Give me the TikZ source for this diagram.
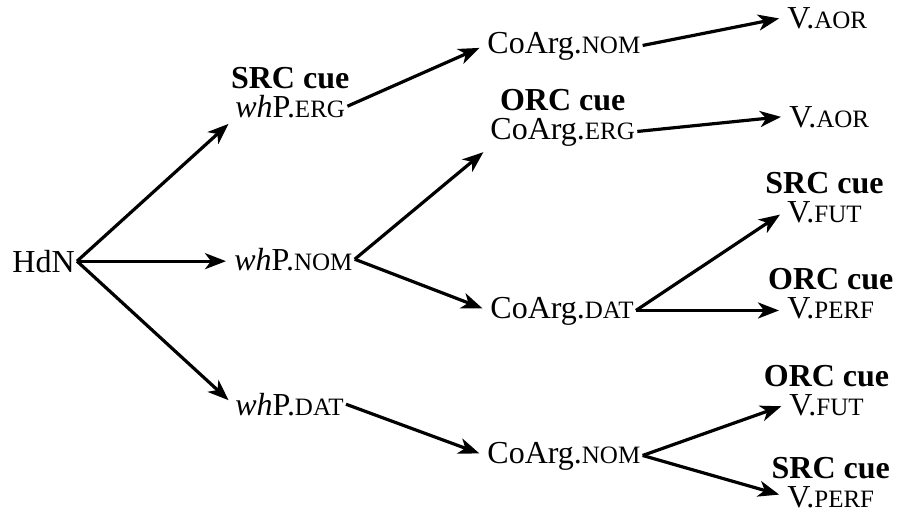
\documentclass[tikz,border=0pt]{standalone}
\usepackage{fontspec}
\setmainfont{Liberation Serif}
\usetikzlibrary{arrows.meta, positioning}
\newcommand{\gl}[1]{{\fontsize{12.5}{15}\selectfont #1}}

\begin{document}
\begin{tikzpicture}[x=0.5pt, y=-0.5pt,
    every node/.style={font=\fontsize{16}{19}\selectfont, inner sep=1pt},
    word/.style={anchor=base west, text height=11pt},
    cue/.style={font=\fontsize{16}{19}\selectfont\bfseries, text depth=0pt},
    link/.style={-{Stealth[length=10.5pt, width=8pt, inset=3pt]}, line width=1.6pt, shorten >=3pt}]
    \useasboundingbox (0,0) rectangle (898,511);

    % Head noun
    \node[word] (hdn) at (10,272) {HdN};

    % wh-phrases
    \node[word] (werg) at (233,117) {\textit{wh}P.\gl{ERG}};
    \node[word] (wnom) at (232,270) {\textit{wh}P.\gl{NOM}};
    \node[word] (wdat) at (233,415) {\textit{wh}P.\gl{DAT}};
    \node[cue, above=1pt of werg] (werg-cue) {SRC cue};

    % Co-arguments
    \node[word] (cnom-top) at (485,53) {CoArg.\gl{NOM}};
    \node[word] (cerg) at (488,139) {CoArg.\gl{ERG}};
    \node[word] (cdat) at (488,318) {CoArg.\gl{DAT}};
    \node[word] (cnom-bot) at (485,463) {CoArg.\gl{NOM}};
    \node[cue, above=1pt of cerg] (cerg-cue) {ORC cue};

    % Verbs
    \node[word] (vaor-top) at (785,28) {V.\gl{AOR}};
    \node[word] (vaor-mid) at (787,127) {V.\gl{AOR}};
    \node[word] (vfut-top) at (785,222) {V.\gl{FUT}};
    \node[word] (vperf-top) at (785,318) {V.\gl{PERF}};
    \node[word] (vfut-bot) at (787,415) {V.\gl{FUT}};
    \node[word] (vperf-bot) at (785,507) {V.\gl{PERF}};
    \node[cue, above=1pt of vfut-top] (vfut-top-cue) {SRC cue};
    \node[cue, above=1pt of vperf-top] (vperf-top-cue) {ORC cue};
    \node[cue, above=1pt of vfut-bot] (vfut-bot-cue) {ORC cue};
    \node[cue, above=1pt of vperf-bot] (vperf-bot-cue) {SRC cue};

    % Branches
    \draw[link] (hdn.east) -- (werg.south west);
    \draw[link] (hdn.east) -- (hdn.east -| wnom.west);
    \draw[link] (hdn.east) -- (wdat.west);
    \draw[link] (werg.east) -- (cnom-top.west);
    \draw[link] (wnom.east) -- (cerg.south west);
    \draw[link] (wnom.east) -- (cdat.west);
    \draw[link] (wdat.east) -- (cnom-bot.west);
    \draw[link] (cnom-top.east) -- (vaor-top.west);
    \draw[link] (cerg.east) -- (vaor-mid.west);
    \draw[link] (cdat.east) -- (vfut-top.west);
    \draw[link] (cdat.east) -- (cdat.east -| vperf-top.west);
    \draw[link] (cnom-bot.east) -- (vfut-bot.west);
    \draw[link] (cnom-bot.east) -- (vperf-bot.west);
\end{tikzpicture}
\end{document}
